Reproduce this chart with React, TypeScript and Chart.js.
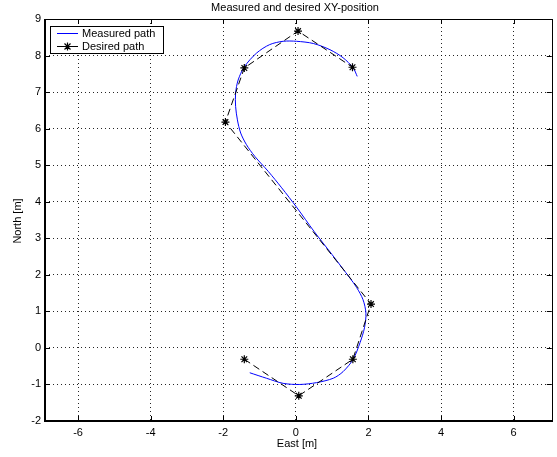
import React, { useEffect, useRef } from 'react';
import { Chart, registerables } from 'chart.js';
Chart.register(...registerables);

const TITLE = 'Measured and desired XY-position';
const X_LABEL = 'East [m]';
const Y_LABEL = 'North [m]';
const LEGEND_LABELS = ['Measured path', 'Desired path'];

const X_TICKS = [-6, -4, -2, 0, 2, 4, 6];
const Y_TICKS = [-2, -1, 0, 1, 2, 3, 4, 5, 6, 7, 8, 9];
const X_MIN = -6.91;
const X_MAX = 7.05;
const Y_MIN = -2;
const Y_MAX = 9;

const MEASURED_X = [-1.27, -0.81, -0.35, 0.11, 0.57, 1.03, 1.3, 1.58, 1.77, 1.89, 1.93, 1.85, 1.67, 1.49, 1.0, 0.5, 0.02, -0.39, -0.76, -1.13, -1.36, -1.52, -1.61, -1.66, -1.66, -1.59, -1.42, -1.08, -0.72, -0.35, 0.02, 0.48, 0.94, 1.3, 1.58, 1.69];
const MEASURED_Y = [-0.68, -0.83, -0.97, -1.0, -0.95, -0.83, -0.65, -0.31, 0.15, 0.55, 0.95, 1.32, 1.66, 1.91, 2.55, 3.19, 3.85, 4.38, 4.83, 5.24, 5.56, 5.88, 6.24, 6.61, 6.97, 7.33, 7.69, 8.07, 8.3, 8.39, 8.39, 8.33, 8.16, 7.94, 7.66, 7.43];

const DESIRED_X = [-1.42, 0.08, 1.57, 2.07, -1.94, -1.42, 0.06, 1.56];
const DESIRED_Y = [-0.31, -1.31, -0.31, 1.2, 6.18, 7.66, 8.67, 7.68];

const FONT = '"Liberation Sans", Arial, sans-serif';

function drawStar(ctx: CanvasRenderingContext2D, x: number, y: number, r: number) {
  ctx.beginPath();
  ctx.moveTo(x - r, y); ctx.lineTo(x + r, y);
  ctx.moveTo(x, y - r); ctx.lineTo(x, y + r);
  const d = r * 0.75;
  ctx.moveTo(x - d, y - d); ctx.lineTo(x + d, y + d);
  ctx.moveTo(x - d, y + d); ctx.lineTo(x + d, y - d);
  ctx.stroke();
}

const decorPlugin = {
  id: 'decor',
  afterDraw(chart: any) {
    const ctx = chart.ctx as CanvasRenderingContext2D;
    const a = chart.chartArea;
    const xs = chart.scales.x;
    const ys = chart.scales.y;
    ctx.save();
    ctx.strokeStyle = '#000';
    ctx.setLineDash([]);
    // inward ticks
    ctx.lineWidth = 1;
    ctx.beginPath();
    X_TICKS.forEach((v) => {
      const px = Math.round(xs.getPixelForValue(v)) + 0.5;
      ctx.moveTo(px, a.bottom); ctx.lineTo(px, a.bottom - 5);
      ctx.moveTo(px, a.top); ctx.lineTo(px, a.top + 5);
    });
    Y_TICKS.forEach((v) => {
      const py = Math.round(ys.getPixelForValue(v)) + 0.5;
      ctx.moveTo(a.left, py); ctx.lineTo(a.left + 5, py);
      ctx.moveTo(a.right, py); ctx.lineTo(a.right - 5, py);
    });
    ctx.stroke();
    // frame
    ctx.lineWidth = 1;
    ctx.strokeRect(Math.round(a.left) + 0.5, Math.round(a.top) + 0.5, Math.round(a.right - a.left), Math.round(a.bottom - a.top));
    ctx.lineWidth = 2;
    ctx.beginPath();
    ctx.moveTo(Math.round(a.left), Math.round(a.top));
    ctx.lineTo(Math.round(a.left), Math.round(a.bottom));
    ctx.lineTo(Math.round(a.right), Math.round(a.bottom));
    ctx.stroke();

    // texts
    ctx.fillStyle = '#000';
    ctx.font = `11px ${FONT}`;
    ctx.textAlign = 'center';
    ctx.textBaseline = 'middle';
    ctx.fillText(TITLE, 295, 8);
    ctx.fillText(X_LABEL, 297, 444);
    ctx.save();
    ctx.translate(18, 221);
    ctx.rotate(-Math.PI / 2);
    ctx.fillText(Y_LABEL, 0, 0);
    ctx.restore();

    // legend
    const lx = 50, ly = 26, lw = 113, lh = 27;
    ctx.fillStyle = '#fff';
    ctx.fillRect(lx, ly, lw, lh);
    ctx.lineWidth = 1;
    ctx.strokeStyle = '#000';
    ctx.strokeRect(lx + 0.5, ly + 0.5, lw, lh);
    ctx.strokeStyle = '#0000ff';
    ctx.beginPath();
    ctx.moveTo(57, 33.5); ctx.lineTo(78, 33.5);
    ctx.stroke();
    ctx.strokeStyle = '#000';
    ctx.beginPath();
    ctx.moveTo(57, 46.5); ctx.lineTo(78, 46.5);
    ctx.stroke();
    ctx.lineWidth = 1.2;
    drawStar(ctx, 67.5, 46.5, 4);
    ctx.fillStyle = '#000';
    ctx.textAlign = 'left';
    ctx.fillText(LEGEND_LABELS[0], 82, 33.5);
    ctx.fillText(LEGEND_LABELS[1], 82, 46.5);
    ctx.restore();
  },
};

export default function App() {
  const ref = useRef<HTMLCanvasElement | null>(null);
  useEffect(() => {
    document.body.style.margin = '0';
    if (!ref.current) return;
    const measured = MEASURED_X.map((x, i) => ({ x, y: MEASURED_Y[i] }));
    const desired = DESIRED_X.map((x, i) => ({ x, y: DESIRED_Y[i] }));
    const chart = new Chart(ref.current, {
      type: 'scatter',
      data: {
        datasets: [
          {
            label: LEGEND_LABELS[1],
            data: desired,
            showLine: true,
            borderColor: '#000',
            borderWidth: 1,
            borderDash: [7, 4],
            pointStyle: 'star',
            pointRadius: 4,
            pointBorderWidth: 1.2,
            pointBorderColor: '#000',
            pointBackgroundColor: '#000',
            tension: 0,
          },
          {
            label: LEGEND_LABELS[0],
            data: measured,
            showLine: true,
            borderColor: '#0000ff',
            borderWidth: 1,
            pointRadius: 0,
            tension: 0.3,
          },
        ],
      },
      options: {
        responsive: false,
        animation: false,
        devicePixelRatio: 1,
        layout: { padding: { top: 19, right: 5, left: 0, bottom: 0 } },
        plugins: { legend: { display: false }, title: { display: false }, tooltip: { enabled: false } },
        scales: {
          x: {
            type: 'linear',
            min: X_MIN,
            max: X_MAX,
            afterBuildTicks: (s: any) => { s.ticks = X_TICKS.map((v) => ({ value: v })); },
            afterFit: (s: any) => { s.height = 36; },
            grid: { color: 'rgba(0,0,0,0.85)', lineWidth: 1, drawTicks: false },
            border: { display: false, dash: [1, 3] },
            ticks: { color: '#000', font: { family: FONT, size: 11 }, padding: 5, maxRotation: 0, autoSkip: false, callback: (v: any) => String(v) },
          },
          y: {
            type: 'linear',
            min: Y_MIN,
            max: Y_MAX,
            afterBuildTicks: (s: any) => { s.ticks = Y_TICKS.map((v) => ({ value: v })); },
            afterFit: (s: any) => { s.width = 45; },
            grid: { color: 'rgba(0,0,0,0.85)', lineWidth: 1, drawTicks: false },
            border: { display: false, dash: [1, 3] },
            ticks: { color: '#000', font: { family: FONT, size: 11 }, padding: 4, autoSkip: false, callback: (v: any) => String(v) },
          },
        },
      },
      plugins: [decorPlugin],
    });
    return () => chart.destroy();
  }, []);
  return (
    <div style={{ position: 'absolute', left: 0, top: 0, width: 557, height: 457, background: '#fff' }}>
      <canvas ref={ref} width={557} height={457} style={{ display: 'block', width: 557, height: 457 }} />
    </div>
  );
}
